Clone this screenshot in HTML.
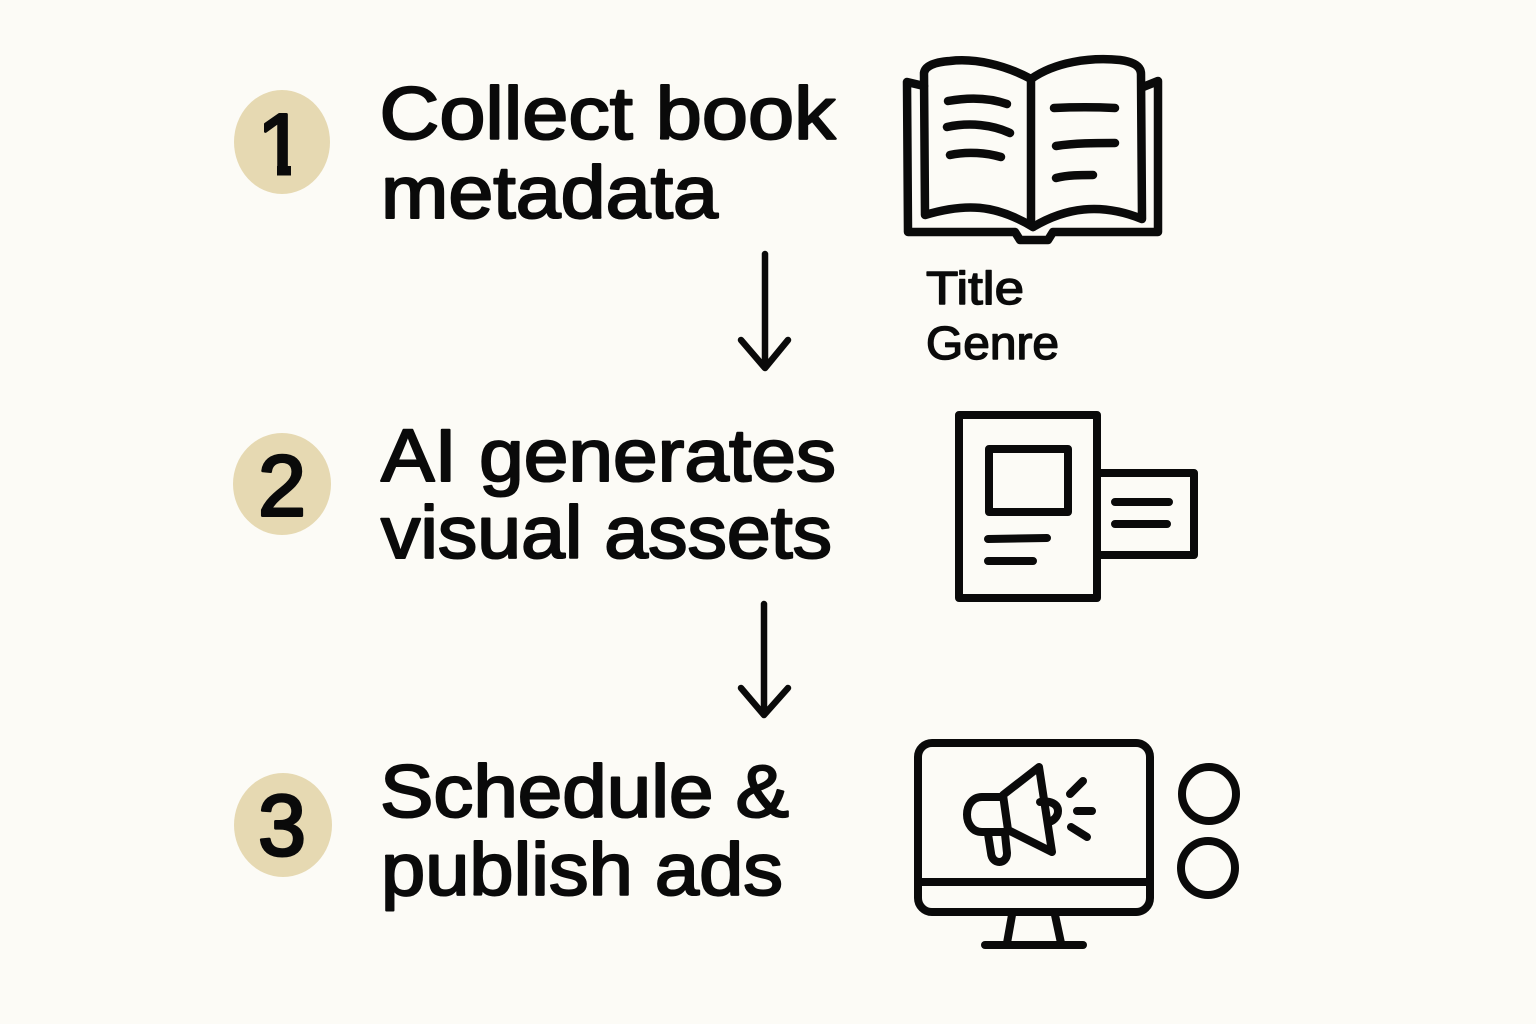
<!DOCTYPE html>
<html>
<head>
<meta charset="utf-8">
<style>
html,body{margin:0;padding:0;background:#fcfbf6;}
svg{display:block;}
text{font-family:"Liberation Sans",sans-serif;fill:#0a0a0a;stroke:#0a0a0a;stroke-linejoin:round;}
.h{font-size:74px;stroke-width:2.1px;}
.n{font-size:86px;stroke-width:3px;text-anchor:middle;}
.s{font-size:46px;stroke-width:1.4px;}
.i{fill:none;stroke:#0a0a0a;stroke-linecap:round;stroke-linejoin:round;}
</style>
</head>
<body>
<svg width="1536" height="1024" viewBox="0 0 1536 1024" xmlns="http://www.w3.org/2000/svg">
<defs>
<clipPath id="one"><path d="M264 90H325V164H291V176H277V164H264Z"/></clipPath>
</defs>
<rect width="1536" height="1024" fill="#fcfbf6"/>

<ellipse cx="282" cy="142" rx="48" ry="52" fill="#e6d9b2"/>
<ellipse cx="282" cy="484" rx="49" ry="51" fill="#e6d9b2"/>
<ellipse cx="283" cy="825" rx="49" ry="52" fill="#e6d9b2"/>
<g clip-path="url(#one)"><text class="n" x="281" y="174">1</text></g>
<text class="n" x="282" y="515.5">2</text>
<text class="n" x="282" y="855">3</text>

<text class="h" x="379.5" y="139" textLength="456" lengthAdjust="spacingAndGlyphs">Collect book</text>
<text class="h" x="381" y="218" textLength="337" lengthAdjust="spacingAndGlyphs">metadata</text>
<text class="h" x="381" y="481" textLength="455" lengthAdjust="spacingAndGlyphs">AI generates</text>
<text class="h" x="381" y="558" textLength="451" lengthAdjust="spacingAndGlyphs">visual assets</text>
<text class="h" x="380" y="817" textLength="409" lengthAdjust="spacingAndGlyphs">Schedule &amp;</text>
<text class="h" x="381" y="895" textLength="402" lengthAdjust="spacingAndGlyphs">publish ads</text>

<text class="s" x="926" y="304" textLength="98" lengthAdjust="spacingAndGlyphs">Title</text>
<text class="s" x="926" y="359" textLength="133" lengthAdjust="spacingAndGlyphs">Genre</text>

<g class="i" stroke-width="6.5">
<path d="M765 254V368M741 340L765 368L788 340"/>
<path d="M764 604V715M741 688L764 715L788 688"/>
</g>

<g class="i" stroke-width="8.5">
<path d="M924 86L907 82L908 232H1015L1020 240H1048L1053 232H1158L1158 81L1143 87"/>
<path d="M1031 79C1005 65 975 58 950 61C935 62 925 66 924 73L925 215C965 203 995 204 1033 227"/>
<path d="M1031 79C1055 62 1090 57 1120 60C1135 62 1141 67 1141 74L1142 219C1100 202 1065 208 1033 227"/>
<path d="M1031 79V225"/>
<path d="M948 101C970 97 990 98 1007 104"/>
<path d="M947 127C970 122 993 125 1010 133"/>
<path d="M950 155C968 151 987 153 1001 157"/>
<path d="M1054 108C1075 107 1095 107 1115 108"/>
<path d="M1056 146C1075 143 1095 143 1115 143"/>
<path d="M1056 178C1068 175 1080 175 1093 175"/>
</g>

<g class="i" stroke-width="8">
<rect x="959" y="415" width="138" height="183"/>
<rect x="989" y="449" width="79" height="63"/>
<path d="M988 539L1047 538M988 561H1033"/>
<path d="M1100 473H1194V555H1100"/>
<path d="M1115 502H1169M1115 524H1167"/>
</g>

<g class="i" stroke-width="8">
<rect x="918" y="743" width="232" height="169" rx="14"/>
<path d="M920 882H1148"/>
<path d="M1012 915L1007 943M1055 915L1061 943"/>
<path d="M985 945H1083"/>
<path d="M1003 795L1039 767L1052 852L1008 830Z"/>
<path d="M1003 797H982C962 797 962 832 982 832H1007"/>
<path d="M988 834L991 853C992 865 1007 865 1007 853L1005 834"/>
<path d="M1040 802C1050 800 1058 804 1058 811C1058 817 1053 821 1049 822"/>
<path d="M1070 794L1083 781M1077 811H1092M1071 827L1087 837"/>
<circle cx="1209" cy="794" r="27"/>
<circle cx="1208" cy="868" r="27"/>
</g>
</svg>
</body>
</html>
